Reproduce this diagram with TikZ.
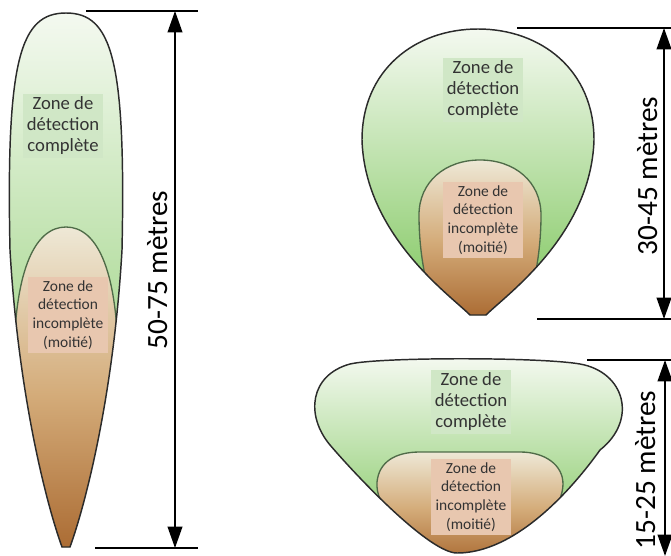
\documentclass[tikz,border=0pt]{standalone}
\usepackage{fontspec}
\setmainfont{Carlito}
\usetikzlibrary{arrows.meta}

\definecolor{greenTop}{HTML}{F4F9F0}
\definecolor{greenBot}{HTML}{7EC65C}
\definecolor{brownTop}{HTML}{EEE8D6}
\definecolor{brownMid}{HTML}{D4AC7A}
\definecolor{brownBot}{HTML}{A8672E}
\definecolor{edgeDark}{HTML}{2B2B2B}
\definecolor{edgeInner}{HTML}{4F6B48}
\definecolor{tagGreen}{HTML}{D0E7C6}
\definecolor{tagBrown}{HTML}{E8C7AF}
\definecolor{tagText}{HTML}{333333}

\tikzset{
  outerzone/.style={top color=greenTop, bottom color=greenBot},
  innerzone/.style={top color=brownTop, bottom color=brownBot, middle color=brownMid},
  outeredge/.style={draw=edgeDark, line width=1.1pt},
  inneredge/.style={draw=edgeInner, line width=1pt},
  fulltag/.style={fill=tagGreen, text=tagText, align=center,
    font=\fontsize{14}{15.75}\selectfont, inner xsep=2pt, inner ysep=2pt, minimum width=60pt},
  halftag/.style={fill=tagBrown, text=tagText, align=center,
    font=\fontsize{11.6}{14}\selectfont, inner xsep=2pt, inner ysep=3pt, minimum width=60pt},
  dimline/.style={line width=1.5pt},
  dimarrow/.style={line width=1.3pt,
    {Triangle[length=16pt,width=11pt]}-{Triangle[length=16pt,width=11pt]}},
  dimtext/.style={rotate=90, anchor=base, font=\fontsize{22}{26}\selectfont}
}

% zone outlines (pixel-like units, y grows downwards)
\def\leftOuter{(62,547) .. controls (45,500) and (18,390) .. (10,250)
  .. controls (6,60) and (20,13) .. (66,13)
  .. controls (112,13) and (126,60) .. (122,250)
  .. controls (114,390) and (87,500) .. (70,547) -- cycle}
\def\leftInner{(14,380) .. controls (12,270) and (35,227) .. (66,227)
  .. controls (97,227) and (120,270) .. (118,380) -- (118,560) -- (14,560) -- cycle}

\def\dropOuter{(470,315) .. controls (450,295) and (365,235) .. (362,140)
  .. controls (362,70) and (415,29) .. (478,29)
  .. controls (541,29) and (594,70) .. (594,140)
  .. controls (591,235) and (506,295) .. (486,315) -- cycle}
\def\dropInner{(440,322) .. controls (425,290) and (419,250) .. (419,215)
  .. controls (419,182) and (445,160) .. (480,160)
  .. controls (515,160) and (541,182) .. (541,215)
  .. controls (541,250) and (535,290) .. (520,322) -- cycle}

\def\cupOuter{(457,553) .. controls (430,553) and (360,480) .. (330,445)
  .. controls (305,415) and (310,375) .. (350,364)
  .. controls (380,357) and (540,357) .. (580,364)
  .. controls (625,372) and (638,420) .. (600,450)
  .. controls (580,478) and (521,553) .. (457,553) -- cycle}
\def\cupInner{(430,565) .. controls (400,530) and (375,505) .. (377,482)
  .. controls (379,462) and (395,452) .. (420,452) -- (520,452)
  .. controls (545,452) and (563,465) .. (563,484)
  .. controls (563,505) and (540,535) .. (510,565) -- cycle}

\begin{document}
\begin{tikzpicture}[x=0.75pt, y=-0.75pt]
\useasboundingbox (0,0) rectangle (671,556);

% ---- long narrow zone ----
\path[outerzone] \leftOuter;
\begin{scope}
  \clip \leftOuter;
  \path[innerzone, inneredge] \leftInner;
\end{scope}
\path[outeredge] \leftOuter;

% ---- teardrop zone ----
\path[outerzone] \dropOuter;
\begin{scope}
  \clip \dropOuter;
  \path[innerzone, inneredge] \dropInner;
\end{scope}
\path[outeredge] \dropOuter;

% ---- wide cup zone ----
\path[outerzone] \cupOuter;
\begin{scope}
  \clip \cupOuter;
  \path[innerzone, inneredge] \cupInner;
\end{scope}
\path[outeredge] \cupOuter;

% ---- zone captions ----
\node[fulltag] (leftFull) at (63,126) {Zone de\\détection\\complète};
\node[halftag] (leftHalf) at (68,315) {Zone de\\détection\\incomplète\\(moitié)};
\node[fulltag] (dropFull) at (483,90) {Zone de\\détection\\complète};
\node[halftag] (dropHalf) at (483,220) {Zone de\\détection\\incomplète\\(moitié)};
\node[fulltag] (cupFull) at (471,402) {Zone de\\détection\\complète};
\node[halftag] (cupHalf) at (471,497) {Zone de\\détection\\incomplète\\(moitié)};

% ---- dimension: long zone ----
\coordinate (lTopA) at (86,11);
\coordinate (lTopB) at (198,11);
\coordinate (lBotA) at (95,548);
\coordinate (lBotB) at (198,548);
\coordinate (lArrTop) at (175,11);
\coordinate (lArrBot) at (175,548);
\draw[dimline] (lTopA) -- (lTopB);
\draw[dimline] (lBotA) -- (lBotB);
\draw[dimarrow] (lArrTop) -- (lArrBot);
\node[dimtext] (lLen) at (167,270) {50-75 mètres};

% ---- dimension: teardrop zone ----
\coordinate (dTopA) at (517,28);
\coordinate (dTopB) at (671,28);
\coordinate (dBotA) at (537,319);
\coordinate (dBotB) at (671,319);
\coordinate (dArrTop) at (664,28);
\coordinate (dArrBot) at (664,319);
\draw[dimline] (dTopA) -- (dTopB);
\draw[dimline] (dBotA) -- (dBotB);
\draw[dimarrow] (dArrTop) -- (dArrBot);
\node[dimtext] (dLen) at (657,176) {30-45 mètres};

% ---- dimension: cup zone ----
\coordinate (cTopA) at (587,360);
\coordinate (cTopB) at (671,360);
\coordinate (cArrTop) at (665,360);
\coordinate (cArrBot) at (665,556);
\draw[dimline] (cTopA) -- (cTopB);
\draw[dimarrow] (cArrTop) -- (cArrBot);
\node[dimtext] (cLen) at (655,470) {15-25 mètres};
\end{tikzpicture}
\end{document}
